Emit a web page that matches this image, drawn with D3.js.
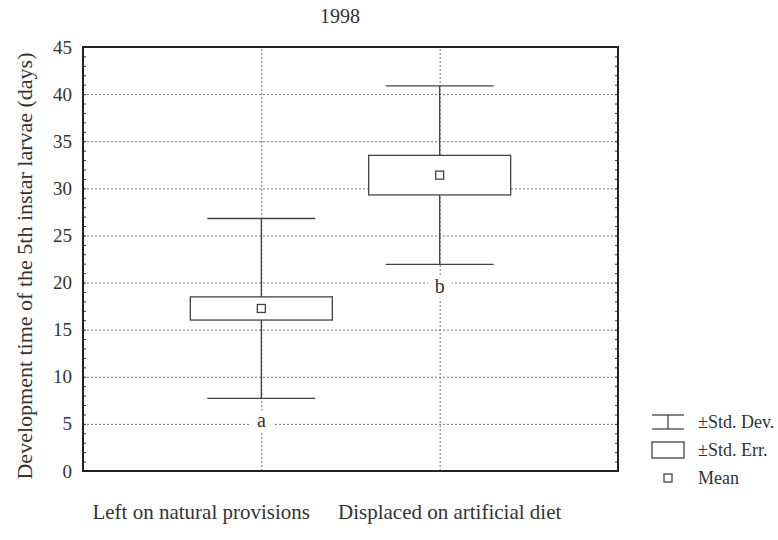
<!DOCTYPE html>
<html>
<head>
<meta charset="utf-8">
<script src="https://cdn.jsdelivr.net/npm/d3@7"></script>
<style>
    body { margin: 0; background: #fff; }
    svg { font-family: 'Liberation Serif', 'DejaVu Serif', serif; }
    .grid line { stroke: #777; stroke-dasharray: 2,2; stroke-width: 1; }
    .grid path { display: none; }
    .minor line { stroke: #333; }
    .minor path { display: none; }
</style>
</head>
<body>
<script>
const W = 778, H = 540;
const margin = { top: 47, right: 160, bottom: 69, left: 83 },
    width = W - margin.left - margin.right,
    height = H - margin.top - margin.bottom;

// data
const groups = ['Left on natural provisions', 'Displaced on artificial diet'];
const means = [17.25, 31.4];
const stdErr = [1.23, 2.1];
const stdDev = [9.55, 9.47];
const letters = ['a', 'b'];
const yTicks = [0, 5, 10, 15, 20, 25, 30, 35, 40, 45];
const legendItems = ['±Std. Dev.', '±Std. Err.', 'Mean'];

const data = groups.map((g, i) => {
    return { group: g, mean: means[i], se: stdErr[i], sd: stdDev[i], letter: letters[i] }
});

const xScale = d3.scalePoint().domain(groups).range([0, width]).padding(1);
const yScale = d3.scaleLinear().domain([0, 45]).range([height, 0]);

const svg = d3.select('body').append('svg')
    .attr('width', W)
    .attr('height', H)
    .append('g')
    .attr('transform', 'translate(' + margin.left + ',' + margin.top + ')');

// title
svg.append('text')
    .attr('x', 257)
    .attr('y', -24)
    .style('text-anchor', 'middle')
    .style('font-size', '20px')
    .style('fill', '#333')
    .text('1998');

// gridlines
svg.append('g')
    .attr('class', 'grid')
    .call(d3.axisLeft(yScale).tickValues(yTicks.slice(1, -1)).tickSize(-width).tickFormat(''));
svg.append('g')
    .attr('class', 'grid')
    .attr('transform', 'translate(0,' + height + ')')
    .call(d3.axisBottom(xScale).tickSize(-height).tickFormat(''));

// minor ticks on both sides, pointing in
const minor = d3.range(1, 45);
svg.append('g')
    .attr('class', 'minor')
    .call(d3.axisLeft(yScale).tickValues(minor).tickSize(-3).tickFormat(''));
svg.append('g')
    .attr('class', 'minor')
    .attr('transform', 'translate(' + width + ',0)')
    .call(d3.axisRight(yScale).tickValues(minor).tickSize(-3).tickFormat(''));

// tick labels
svg.append('g')
    .call(d3.axisLeft(yScale).tickValues(yTicks).tickSize(0).tickPadding(11))
    .call(g => g.select('.domain').remove())
    .selectAll('text')
    .style('font-family', 'Liberation Serif')
    .style('font-size', '19px')
    .style('fill', '#333');

// whiskers (std. dev.)
const box = svg.selectAll('.box')
    .data(data)
    .enter().append('g')
    .attr('class', 'box')
    .attr('transform', d => { return 'translate(' + xScale(d.group) + ',0)' });
box.append('line')
    .attr('y1', d => { return yScale(d.mean + d.sd) })
    .attr('y2', d => { return yScale(d.mean - d.sd) })
    .style('stroke', '#444').style('stroke-width', 1.3);
box.selectAll('.cap')
    .data(d => { return [d.mean + d.sd, d.mean - d.sd] })
    .enter().append('line')
    .attr('class', 'cap')
    .attr('x1', -54).attr('x2', 54)
    .attr('y1', v => { return yScale(v) })
    .attr('y2', v => { return yScale(v) })
    .style('stroke', '#444').style('stroke-width', 1.3);

// std. err. box
box.append('rect')
    .attr('x', -71)
    .attr('width', 142)
    .attr('y', d => { return yScale(d.mean + d.se) })
    .attr('height', d => { return yScale(d.mean - d.se) - yScale(d.mean + d.se) })
    .style('fill', '#fff')
    .style('stroke', '#444').style('stroke-width', 1.3);

// mean
box.append('rect')
    .attr('x', -4)
    .attr('y', d => { return yScale(d.mean) - 4 })
    .attr('width', 8).attr('height', 8)
    .style('fill', '#fff')
    .style('stroke', '#444').style('stroke-width', 1.3);

// significance letters
box.append('rect')
    .attr('x', -12).attr('width', 24)
    .attr('y', d => { return yScale(d.mean - d.sd) + 12 })
    .attr('height', 22)
    .style('fill', '#fff');
box.append('text')
    .attr('y', d => { return yScale(d.mean - d.sd) + 29 })
    .style('text-anchor', 'middle')
    .style('font-size', '20px')
    .style('fill', '#333')
    .text(d => { return d.letter });

// frame
svg.append('rect')
    .attr('width', width).attr('height', height)
    .style('fill', 'none')
    .style('stroke', '#222').style('stroke-width', 2);

// axis label
svg.append('text')
    .attr('transform', 'translate(' + (-51) + ',' + (height / 2 + 7) + ') rotate(-90)')
    .style('text-anchor', 'middle')
    .style('font-size', '22px')
    .style('fill', '#333')
    .text('Development time of the 5th instar larvae (days)');

// category labels
svg.append('text')
    .attr('x', 227).attr('y', height + 48)
    .style('text-anchor', 'end')
    .style('font-size', '21px')
    .style('fill', '#333')
    .text(groups[0]);
svg.append('text')
    .attr('x', 255).attr('y', height + 48)
    .style('text-anchor', 'start')
    .style('font-size', '21px')
    .style('fill', '#333')
    .text(groups[1]);

// legend
const legend = svg.append('g')
    .attr('transform', 'translate(' + (width + 34) + ',' + 375 + ')');
const lg = legend.selectAll('g')
    .data(legendItems)
    .enter().append('g')
    .attr('transform', (d, i) => { return 'translate(0,' + (i * 28) + ')' });
lg.append('text')
    .attr('x', 46).attr('y', 6)
    .style('font-size', '18px')
    .style('fill', '#333')
    .text(d => { return d });
const sdSym = legend.append('g').style('stroke', '#444').style('stroke-width', 1.3);
sdSym.append('line').attr('x1', 0).attr('x2', 32).attr('y1', -7).attr('y2', -7);
sdSym.append('line').attr('x1', 0).attr('x2', 32).attr('y1', 7).attr('y2', 7);
sdSym.append('line').attr('x1', 16).attr('x2', 16).attr('y1', -7).attr('y2', 7);
legend.append('rect')
    .attr('x', 0).attr('y', 28 - 8).attr('width', 32).attr('height', 16)
    .style('fill', '#fff').style('stroke', '#444').style('stroke-width', 1.3);
legend.append('rect')
    .attr('x', 12).attr('y', 56 - 4).attr('width', 8).attr('height', 8)
    .style('fill', '#fff').style('stroke', '#444').style('stroke-width', 1.3);
</script>
</body>
</html>
